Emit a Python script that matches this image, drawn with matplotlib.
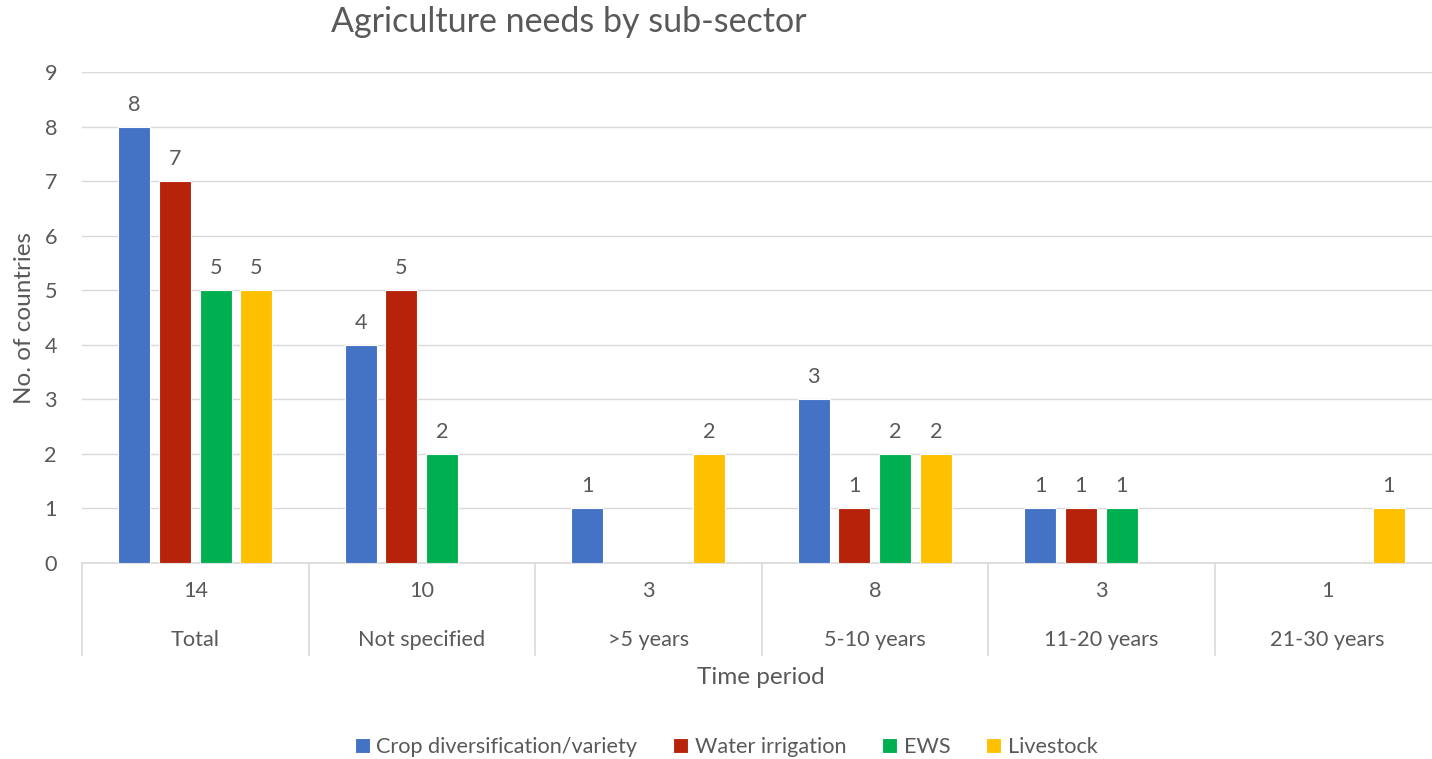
import matplotlib
matplotlib.use("Agg")
import matplotlib.pyplot as plt
import numpy as np
from matplotlib.transforms import blended_transform_factory

categories = ["Total", "Not specified", ">5 years", "5-10 years", "11-20 years", "21-30 years"]
counts = ["14", "10", "3", "8", "3", "1"]
series_names = ["Crop diversification/variety", "Water irrigation", "EWS", "Livestock"]
crop = [8, 4, 1, 3, 1, 0]
water = [7, 5, 0, 1, 1, 0]
ews = [5, 2, 0, 2, 1, 0]
livestock = [5, 0, 2, 2, 0, 1]
colors = ["#4472C4", "#B7230A", "#00B050", "#FFC000"]

plt.rcParams['font.family'] = ['Lato', 'DejaVu Sans']
TXT = "#595959"
FS = 15.6

fig = plt.figure(figsize=(14.32, 7.59), dpi=100)
W, H = 1432, 759
left, right, top, bottom = 82, 1441, 72, 563
ax = fig.add_axes([left / W, (H - bottom) / H, (right - left) / W, (bottom - top) / H])

x = np.arange(len(categories))
width = 0.141
pitch = 0.18
data = [crop, water, ews, livestock]
for i, (vals, c, name) in enumerate(zip(data, colors, series_names)):
    pos = x + (i - 1.5) * pitch
    ax.bar(pos, vals, width, color=c, label=name, edgecolor="white", linewidth=0.8, zorder=3)
    for p, v in zip(pos, vals):
        if v > 0:
            ax.text(p, v + 0.22, str(v), ha="center", va="bottom", fontsize=FS, color=TXT)

ax.set_xlim(-0.5, len(categories) - 0.5)
ax.set_ylim(0, 9)
ax.set_yticks(range(10))
ax.tick_params(axis="y", length=0, labelsize=FS, labelcolor=TXT, pad=18)
ax.set_xticks([])
ax.yaxis.grid(True, color="#D9D9D9", linewidth=1, zorder=0)
for s in ["top", "right", "left"]:
    ax.spines[s].set_visible(False)
ax.spines["bottom"].set_color("#D9D9D9")
ax.spines["bottom"].set_linewidth(1.2)

trans = blended_transform_factory(ax.transData, ax.transAxes)
for b in np.arange(len(categories) + 1) - 0.5:
    ax.plot([b, b], [0, -0.187], transform=trans, color="#D9D9D9", linewidth=1.2, clip_on=False)
for xi, (cat, cnt) in enumerate(zip(categories, counts)):
    ax.text(xi, -0.057, cnt, transform=trans, ha="center", va="center", fontsize=FS, color=TXT)
    ax.text(xi, -0.157, cat, transform=trans, ha="center", va="center", fontsize=FS, color=TXT)

fig.text(761 / W, (H - 677) / H, "Time period", ha="center", va="center", fontsize=17.5, color=TXT)
fig.text(25 / W, (H - 318) / H, "No. of countries", rotation=90, ha="center", va="center",
         fontsize=17.5, color=TXT)
fig.text(569 / W, (H - 22) / H, "Agriculture needs by sub-sector", ha="center", va="center",
         fontsize=24.5, color=TXT)

fig.legend(loc="center", bbox_to_anchor=(726 / W, (H - 747) / H), ncol=4, frameon=False,
           fontsize=FS, labelcolor=TXT, handlelength=0.7, handleheight=0.7, handletextpad=0.3,
           columnspacing=1.65)

fig.savefig("out.png", dpi=100)
